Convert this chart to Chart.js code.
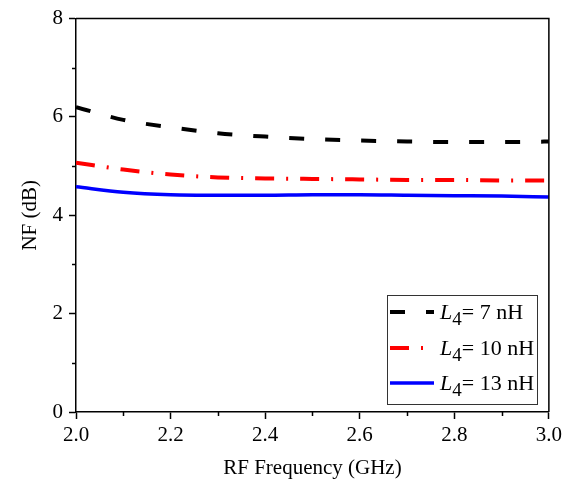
<!DOCTYPE html>
<html>
<head>
<meta charset="utf-8">
<script src="https://cdn.jsdelivr.net/npm/chart.js@4.4.1/dist/chart.umd.min.js"></script>
<style>
  html, body { margin: 0; padding: 0; background: #fff; }
  #wrap { width: 566px; height: 489px; }
</style>
</head>
<body>
<div id="wrap"><canvas id="chartNF" width="566" height="489"></canvas></div>
<script>
// donnees
const frequences = [2.0, 2.1, 2.2, 2.3, 2.4, 2.5, 2.6, 2.7, 2.8, 2.9, 3.0];
const nfL4_7nH  = [6.20, 5.94, 5.79, 5.67, 5.60, 5.55, 5.52, 5.50, 5.49, 5.49, 5.50];
const nfL4_10nH = [5.07, 4.93, 4.83, 4.77, 4.75, 4.74, 4.73, 4.72, 4.72, 4.71, 4.71];
const nfL4_13nH = [4.58, 4.47, 4.42, 4.41, 4.41, 4.42, 4.42, 4.41, 4.40, 4.39, 4.37];
const inductances = ["7 nH", "10 nH", "13 nH"];
const couleurs = ["#000000", "#ff0000", "#0000ff"];

const POLICE = "'Liberation Serif', 'Times New Roman', serif";

function points(ys) {
  return frequences.map((f, i) => ({x: f, y: ys[i]}));
}

const datasets = [
  {label: "L4= " + inductances[0], data: points(nfL4_7nH), borderColor: couleurs[0], borderWidth: 4, borderDash: [15, 21]},
  {label: "L4= " + inductances[1], data: points(nfL4_10nH), borderColor: couleurs[1], borderWidth: 4, borderDash: [19, 12, 2, 12]},
  {label: "L4= " + inductances[2], data: points(nfL4_13nH), borderColor: couleurs[2], borderWidth: 3.5, borderDash: []}
];
datasets.forEach(d => { d.pointRadius = 0; d.tension = 0.4; d.cubicInterpolationMode = 'monotone'; d.fill = false; });

// cadre + petites graduations + legende
const cadrePlugin = {
  id: 'cadre',
  afterDraw(chart) {
    const ctx = chart.ctx;
    const a = chart.chartArea;
    ctx.save();
    ctx.strokeStyle = '#000';
    ctx.lineWidth = 1.5;
    ctx.beginPath();
    ctx.moveTo(a.left, a.top); ctx.lineTo(a.right, a.top); ctx.lineTo(a.right, a.bottom);
    ctx.stroke();

    // graduations mineures
    const xs = chart.scales.x, ys = chart.scales.y;
    ctx.lineWidth = 1.5;
    for (let v = 2.1; v < 3.0; v += 0.2) {
      const px = Math.round(xs.getPixelForValue(v)) + 0.5;
      ctx.beginPath(); ctx.moveTo(px, a.bottom); ctx.lineTo(px, a.bottom + 4); ctx.stroke();
    }
    for (let v = 1; v < 8; v += 2) {
      const py = Math.round(ys.getPixelForValue(v)) + 0.5;
      ctx.beginPath(); ctx.moveTo(a.left, py); ctx.lineTo(a.left - 4, py); ctx.stroke();
    }

    // legende
    const bx = 387, by = 295, bw = 150, bh = 109;
    ctx.fillStyle = '#fff';
    ctx.fillRect(bx, by, bw, bh);
    ctx.strokeStyle = '#333';
    ctx.lineWidth = 1;
    ctx.strokeRect(bx + 0.5, by + 0.5, bw, bh);
    const rows = [312, 348, 383];
    chart.data.datasets.forEach((d, i) => {
      const y = rows[i];
      ctx.strokeStyle = d.borderColor;
      ctx.lineWidth = d.borderWidth;
      ctx.setLineDash(d.borderDash);
      ctx.beginPath(); ctx.moveTo(390, y); ctx.lineTo(434, y); ctx.stroke();
      ctx.setLineDash([]);
      ctx.fillStyle = '#000';
      ctx.textBaseline = 'alphabetic';
      ctx.textAlign = 'left';
      let x = 440;
      const base = y + 7;
      ctx.font = "italic 22px " + POLICE;
      ctx.fillText("L", x, base);
      x += ctx.measureText("L").width;
      ctx.font = "19px " + POLICE;
      ctx.fillText("4", x, base + 6);
      x += ctx.measureText("4").width;
      ctx.font = "22px " + POLICE;
      ctx.fillText("= " + inductances[i], x, base);
    });
    ctx.restore();
  }
};

const config = {
  type: 'line',
  data: {datasets: datasets},
  options: {
    responsive: false,
    animation: false,
    devicePixelRatio: 1,
    layout: {padding: {top: 17, right: 15, left: 0, bottom: 0}},
    plugins: {legend: {display: false}, tooltip: {enabled: false}},
    scales: {
      x: {
        type: 'linear', min: 2, max: 3,
        afterFit(scale) { scale.height = 77; },
        ticks: {
          stepSize: 0.2, color: '#000', padding: 4, maxRotation: 0,
          font: {family: POLICE, size: 21},
          callback: v => v.toFixed(1)
        },
        grid: {drawOnChartArea: false, drawTicks: true, tickLength: 7, tickWidth: 1.5, tickColor: '#000'},
        border: {display: true, color: '#000', width: 1.5},
        title: {display: true, text: 'RF Frequency (GHz)', color: '#000', font: {family: POLICE, size: 21}, padding: {top: 0, bottom: 8}}
      },
      y: {
        min: 0, max: 8,
        afterFit(scale) { scale.width = 76; },
        ticks: {
          stepSize: 2, color: '#000', padding: 6,
          font: {family: POLICE, size: 21}
        },
        grid: {drawOnChartArea: false, drawTicks: true, tickLength: 7, tickWidth: 1.5, tickColor: '#000'},
        border: {display: true, color: '#000', width: 1.5},
        title: {display: true, text: 'NF (dB)', color: '#000', font: {family: POLICE, size: 21}, padding: {top: 18, bottom: 0}}
      }
    }
  },
  plugins: [cadrePlugin]
};

const monGraphique = new Chart(document.getElementById('chartNF'), config);
</script>
</body>
</html>
